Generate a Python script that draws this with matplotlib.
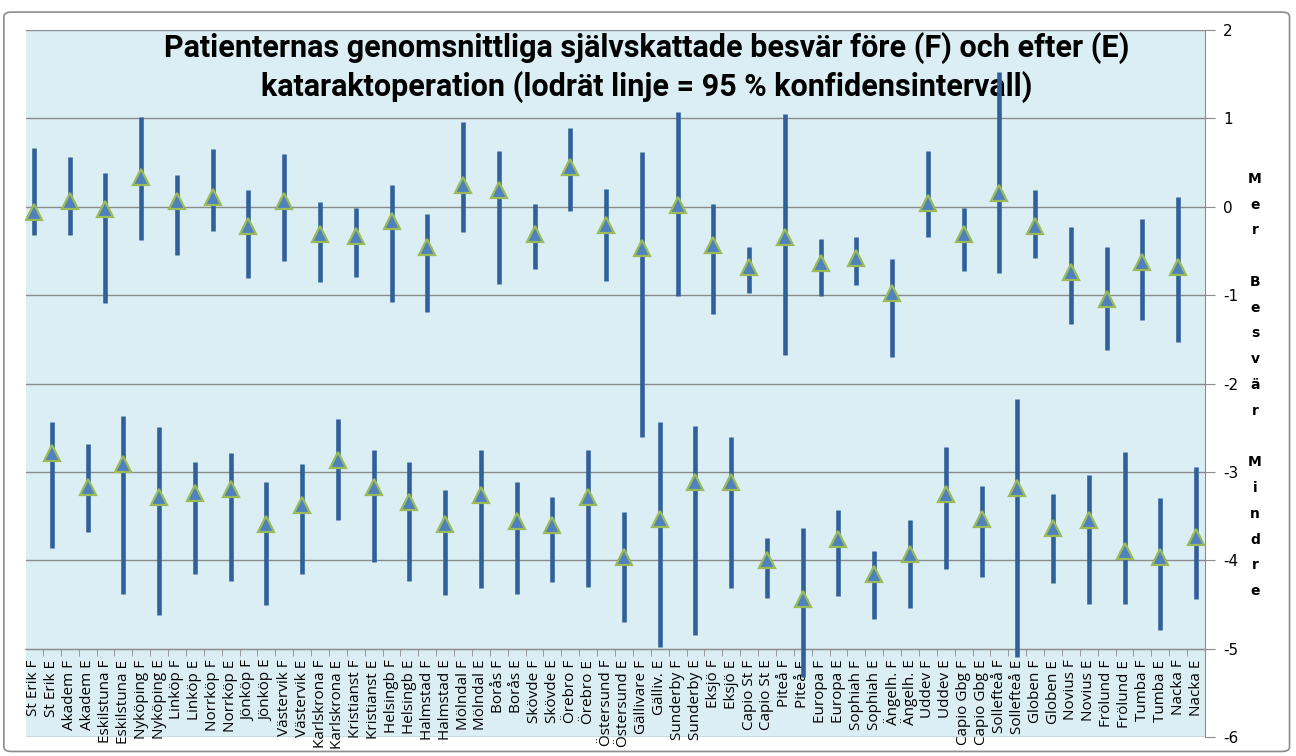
import matplotlib.pyplot as plt
from matplotlib.patches import FancyBboxPatch

plt.rcParams["axes.unicode_minus"] = False

labels = ["St Erik F", "St Erik E", "Akadem F", "Akadem E", "Eskilstuna F", "Eskilstuna E",
          "Nyköping F", "Nyköping E", "Linköp F", "Linköp E", "Norrköp F", "Norrköp E",
          "Jönköp F", "Jönköp E", "Västervik F", "Västervik E", "Karlskrona F", "Karlskrona E",
          "Kristianst F", "Kristianst E", "Helsingb F", "Helsingb E", "Halmstad F", "Halmstad E",
          "Mölndal F", "Mölndal E", "Borås F", "Borås E", "Skövde F", "Skövde E",
          "Örebro F", "Örebro E", "Östersund F", "Östersund E", "Gällivare F", "Gälliv. E",
          "Sunderby F", "Sunderby E", "Eksjö F", "Eksjö E", "Capio St F", "Capio St E",
          "Piteå F", "Piteå E", "Europa F", "Europa E", "Sophiah F", "Sophiah E",
          "Ängelh. F", "Ängelh. E", "Uddev F", "Uddev E", "Capio Gbg F", "Capio Gbg E",
          "Sollefteå F", "Sollefteå E", "Globen F", "Globen E", "Novius F", "Novius E",
          "Frölund F", "Frölund E", "Tumba F", "Tumba E", "Nacka F", "Nacka E"]

mean = [-0.06, -2.79, 0.06, -3.17, -0.03, -2.91, 0.34, -3.28, 0.07, -3.24, 0.11, -3.19,
        -0.22, -3.59, 0.06, -3.37, -0.31, -2.86, -0.33, -3.17, -0.16, -3.34, -0.46, -3.59,
        0.25, -3.26, 0.19, -3.56, -0.31, -3.60, 0.45, -3.28, -0.21, -3.96, -0.47, -3.53,
        0.02, -3.11, -0.43, -3.12, -0.68, -4.00, -0.34, -4.44, -0.64, -3.76, -0.58, -4.15,
        -0.98, -3.93, 0.04, -3.25, -0.31, -3.53, 0.16, -3.18, -0.22, -3.64, -0.74, -3.55,
        -1.04, -3.90, -0.62, -3.96, -0.68, -3.74]

ci_low = [-0.32, -3.86, -0.32, -3.68, -1.09, -4.38, -0.38, -4.62, -0.55, -4.16, -0.28, -4.24,
          -0.81, -4.51, -0.61, -4.16, -0.85, -3.55, -0.80, -4.02, -1.08, -4.24, -1.19, -4.39,
          -0.29, -4.31, -0.87, -4.38, -0.70, -4.25, -0.05, -4.30, -0.84, -4.70, -2.60, -4.98,
          -1.01, -4.85, -1.21, -4.31, -0.98, -4.43, -1.68, -5.32, -1.01, -4.41, -0.89, -4.67,
          -1.70, -4.54, -0.34, -4.10, -0.73, -4.19, -0.75, -5.10, -0.58, -4.26, -1.33, -4.49,
          -1.62, -4.50, -1.28, -4.79, -1.53, -4.44]

ci_high = [0.66, -2.44, 0.56, -2.68, 0.38, -2.37, 1.01, -2.49, 0.36, -2.89, 0.65, -2.79,
           0.19, -3.11, 0.60, -2.91, 0.05, -2.40, -0.01, -2.75, 0.25, -2.89, -0.08, -3.20,
           0.96, -2.75, 0.63, -3.11, 0.03, -3.28, 0.89, -2.75, 0.20, -3.45, 0.62, -2.44,
           1.07, -2.48, 0.03, -2.61, -0.45, -3.75, 1.05, -3.64, -0.36, -3.43, -0.34, -3.90,
           -0.59, -3.55, 0.63, -2.72, -0.01, -3.16, 1.53, -2.17, 0.19, -3.25, -0.23, -3.03,
           -0.45, -2.78, -0.14, -3.29, 0.11, -2.95]

title = ("Patienternas genomsnittliga självskattade besvär före (F) och efter (E)\n"
         "kataraktoperation (lodrät linje = 95 % konfidensintervall)")
side_label = "Mer Besvär Mindre"

fig = plt.figure(figsize=(12.96, 7.56), dpi=100)
fig.patches.append(FancyBboxPatch((0.003, 0.006), 0.992, 0.978, boxstyle="round,pad=0,rounding_size=0.006",
                                  transform=fig.transFigure, fc="white", ec="#8c8c8c", lw=1.2, zorder=-1))

ax = fig.add_axes([25 / 1296, 19 / 756, 1180 / 1296, 707 / 756])
ax.set_facecolor("#DBEEF4")
x = list(range(len(labels)))

ax.vlines(x, ci_low, ci_high, color="#30609A", lw=3.3, zorder=3)
ax.plot(x, mean, linestyle="none", marker="^", markersize=11, markerfacecolor="#4F81BD",
        markeredgecolor="#9BBB59", markeredgewidth=1.6, zorder=4)

ax.set_xlim(-0.5, len(labels) - 0.5)
ax.set_ylim(-6, 2)
ax.set_yticks(range(-6, 3))
ax.yaxis.tick_right()
ax.tick_params(axis="y", length=7, color="#8c8c8c", pad=6, labelsize=11)
ax.grid(axis="y", color="#8c8c8c", lw=1)
ax.set_axisbelow(True)

# category axis crosses at -5
ax.spines["bottom"].set_position(("data", -5))
ax.spines["bottom"].set_color("#8c8c8c")
ax.spines["right"].set_color("#8c8c8c")
ax.spines["top"].set_visible(False)
ax.spines["left"].set_color("white")
ax.set_xticks(x)
ax.set_xticklabels(labels, rotation=90, family="Open Sans", fontsize=11)
ax.set_xticks([i - 0.5 for i in range(len(labels) + 1)], minor=True)
ax.tick_params(axis="x", which="major", length=0, pad=8)
ax.tick_params(axis="x", which="minor", length=5, color="#8c8c8c")

ax.text(0.527, 0.947, title, transform=ax.transAxes, ha="center", va="center",
        fontsize=22, fontweight="bold", family=["Roboto"],
        linespacing=1.3, zorder=1)

fig.text(1255 / 1296, 1 - 385 / 756, "\n".join(side_label), ha="center", va="center",
         fontsize=10, fontweight="bold", linespacing=2.07)

fig.savefig("out.png", dpi=100)
